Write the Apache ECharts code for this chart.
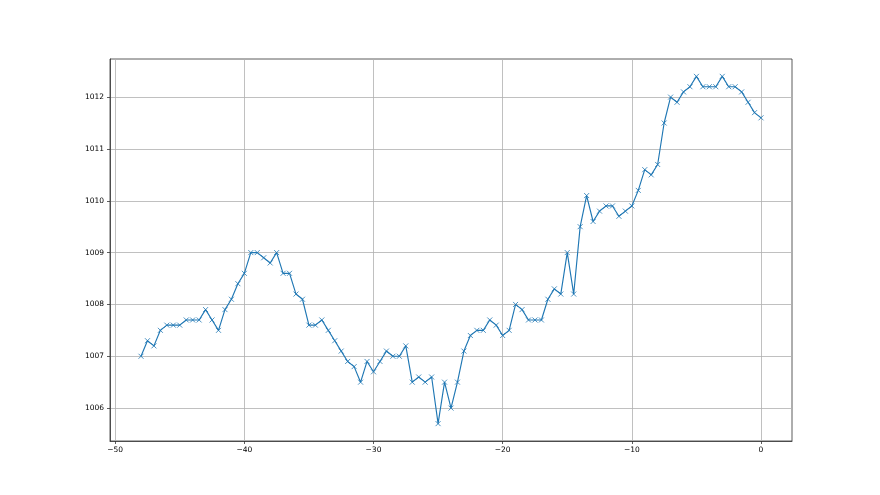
<!DOCTYPE html>
<html>
<head>
<meta charset="utf-8">
<script src="https://cdn.jsdelivr.net/npm/echarts@6/dist/echarts.min.js"></script>
<style>html,body{margin:0;padding:0;background:#fff;}#c{width:880px;height:495px;}</style>
</head>
<body>
<div id="c"></div>
<script>
const hours = [-48,-47.5,-47,-46.5,-46,-45.5,-45,-44.5,-44,-43.5,-43,-42.5,-42,-41.5,-41,-40.5,-40,-39.5,-39,-38.5,-38,-37.5,-37,-36.5,-36,-35.5,-35,-34.5,-34,-33.5,-33,-32.5,-32,-31.5,-31,-30.5,-30,-29.5,-29,-28.5,-28,-27.5,-27,-26.5,-26,-25.5,-25,-24.5,-24,-23.5,-23,-22.5,-22,-21.5,-21,-20.5,-20,-19.5,-19,-18.5,-18,-17.5,-17,-16.5,-16,-15.5,-15,-14.5,-14,-13.5,-13,-12.5,-12,-11.5,-11,-10.5,-10,-9.5,-9,-8.5,-8,-7.5,-7,-6.5,-6,-5.5,-5,-4.5,-4,-3.5,-3,-2.5,-2,-1.5,-1,-0.5,0];
const pressure = [1007.0,1007.3,1007.2,1007.5,1007.6,1007.6,1007.6,1007.7,1007.7,1007.7,1007.9,1007.7,1007.5,1007.9,1008.1,1008.4,1008.6,1009.0,1009.0,1008.9,1008.8,1009.0,1008.6,1008.6,1008.2,1008.1,1007.6,1007.6,1007.7,1007.5,1007.3,1007.1,1006.9,1006.8,1006.5,1006.9,1006.7,1006.9,1007.1,1007.0,1007.0,1007.2,1006.5,1006.6,1006.5,1006.6,1005.7,1006.5,1006.0,1006.5,1007.1,1007.4,1007.5,1007.5,1007.7,1007.6,1007.4,1007.5,1008.0,1007.9,1007.7,1007.7,1007.7,1008.1,1008.3,1008.2,1009.0,1008.2,1009.5,1010.1,1009.6,1009.8,1009.9,1009.9,1009.7,1009.8,1009.9,1010.2,1010.6,1010.5,1010.7,1011.5,1012.0,1011.9,1012.1,1012.2,1012.4,1012.2,1012.2,1012.2,1012.4,1012.2,1012.2,1012.1,1011.9,1011.7,1011.6];
const xTicks = [-50,-40,-30,-20,-10,0];
const yTicks = [1006,1007,1008,1009,1010,1011,1012];

const chart = echarts.init(document.getElementById('c'), null, {renderer:'canvas'});
const font = {fontFamily:'DejaVu Sans', fontSize:7.5, color:'#000'};
chart.setOption({
  animation:false,
  backgroundColor:'#fff',
  grid:{left:110, top:59, width:682, height:382, show:true, borderColor:'#333', borderWidth:0.8, backgroundColor:'transparent'},
  xAxis:{
    type:'value', min:-50.4, max:2.4,
    axisLine:{show:true, onZero:false, lineStyle:{color:'#333', width:0.8}},
    axisTick:{show:true, length:3, inside:false, customValues:xTicks, lineStyle:{color:'#333', width:0.8}},
    axisLabel:{show:true, customValues:xTicks, margin:5, formatter:v=>String(v).replace('-','\u2212'), ...font},
    splitLine:{show:true, lineStyle:{color:'#b0b0b0', width:0.8}}
  },
  yAxis:{
    type:'value', min:1005.365, max:1012.735,
    axisLine:{show:true, onZero:false, lineStyle:{color:'#333', width:0.8}},
    axisTick:{show:true, length:3, customValues:yTicks, lineStyle:{color:'#333', width:0.8}},
    axisLabel:{show:true, customValues:yTicks, margin:6, formatter:v=>String(v), ...font},
    splitLine:{show:true, lineStyle:{color:'#b0b0b0', width:0.8}}
  },
  series:[{
    type:'line',
    data: hours.map((h,i)=>[h, pressure[i]]),
    symbol:'path://M0,0L10,10M10,0L0,10',
    symbolSize:5,
    showSymbol:true,
    lineStyle:{color:'#1f77b4', width:1.15},
    itemStyle:{color:'#1f77b4', borderColor:'#1f77b4', borderWidth:0.8},
    z:3
  }]
});
</script>
</body>
</html>
